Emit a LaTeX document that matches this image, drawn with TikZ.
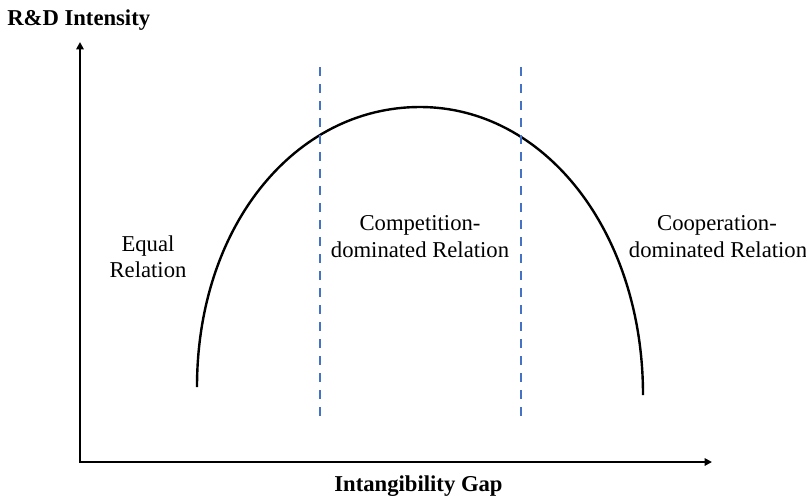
\documentclass[tikz,border=0pt]{standalone}
\usepackage{fontspec}
\setmainfont{Liberation Serif}
\usetikzlibrary{arrows.meta}
\definecolor{dashblue}{RGB}{68,114,196}
\begin{document}
\begin{tikzpicture}[x=0.75pt,y=-0.75pt,
  axis/.style={line width=1.8pt,{Triangle[length=5.5pt,width=5.5pt]}-{Triangle[length=5.5pt,width=5.5pt]}},
  curve/.style={line width=1.8pt},
  divider/.style={dashblue,line width=1.7pt,dash pattern=on 6.75pt off 6pt},
  label/.style={inner sep=0pt,anchor=base,font=\fontsize{17}{19.5}\selectfont},
  axislabel/.style={inner sep=0pt,anchor=base,font=\fontsize{17}{19.5}\selectfont\bfseries}]
\useasboundingbox (0,0) rectangle (806,500);

% axes
\coordinate (ytip) at (80,42);
\coordinate (origin) at (80,462);
\coordinate (xtip) at (712,462);
\draw[axis] (ytip) -- (origin) -- (xtip);

% axis titles
\node[axislabel,anchor=base west] (ylab) at (7,25) {R\&D Intensity};
\node[axislabel] (xlab) at (418.5,491) {Intangibility Gap};

% inverted-U curve
\coordinate (cstart) at (197,387);
\coordinate (cpeak) at (420,107);
\coordinate (cend) at (643,395);
\draw[curve] (cstart) .. controls (197,226) and (295,107) .. (cpeak)
             .. controls (545,107) and (643,232) .. (cend);

% regime boundaries
\coordinate (d1top) at (320,67);
\coordinate (d1bot) at (320,421);
\coordinate (d2top) at (521,67);
\coordinate (d2bot) at (521,421);
\draw[divider] (d1top) -- (d1bot);
\draw[divider] (d2top) -- (d2bot);

% regime labels
\node[label] (eq1) at (148,251) {Equal};
\node[label] (eq2) at (148,277) {Relation};
\node[label] (cm1) at (420,230) {Competition-};
\node[label] (cm2) at (420,257) {dominated Relation};
\node[label] (co1) at (717,230) {Cooperation-};
\node[label] (co2) at (718,257) {dominated Relation};
\end{tikzpicture}
\end{document}
